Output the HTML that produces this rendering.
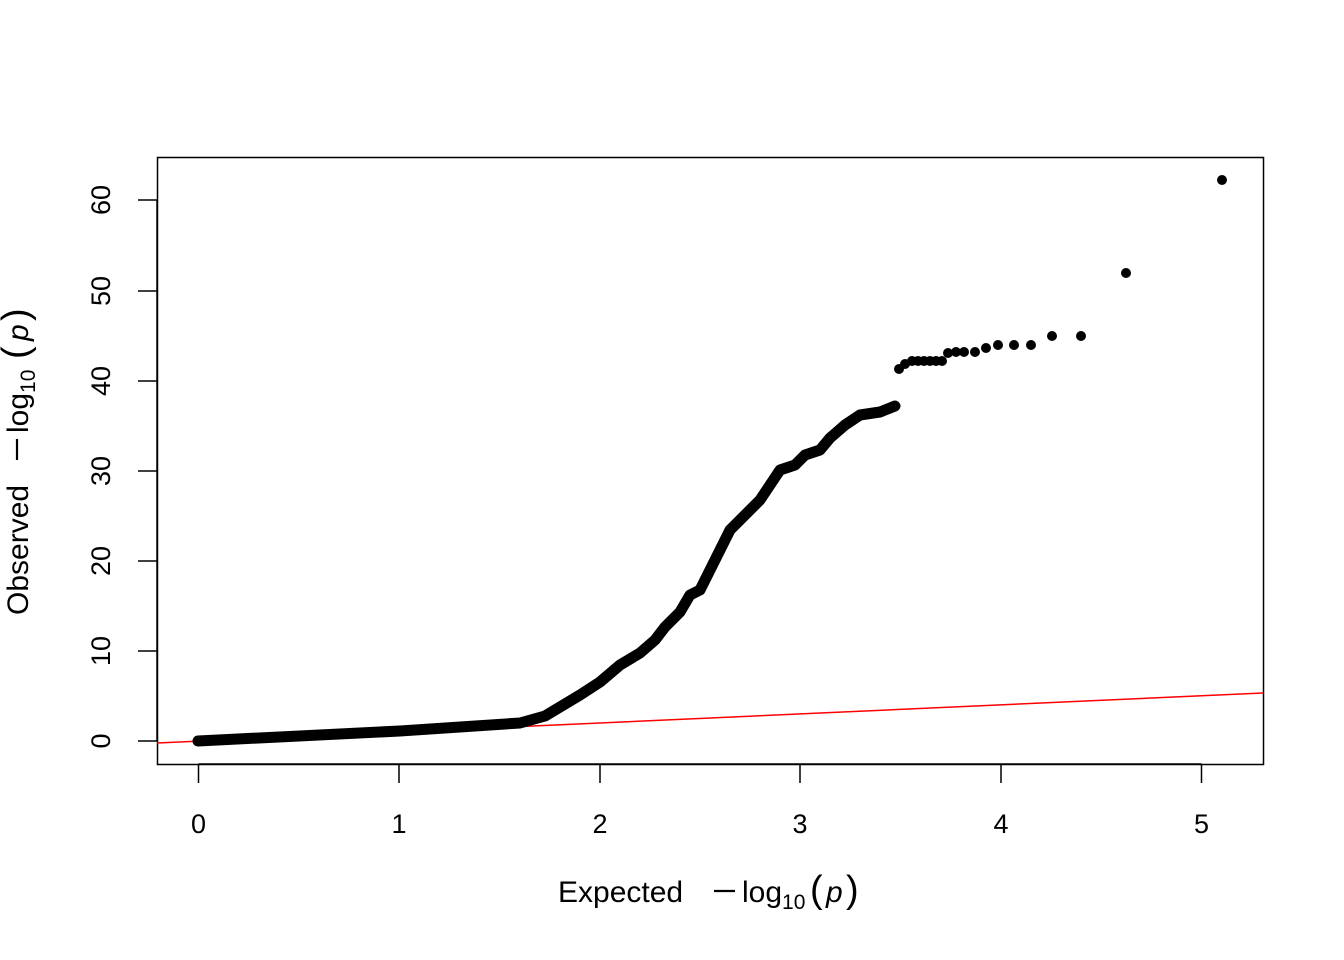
<!DOCTYPE html>
<html><head><style>body{margin:0;background:#fff}svg{display:block}text{font-family:"Liberation Sans",Arial,sans-serif}</style></head><body>
<svg width="1344" height="960" xmlns="http://www.w3.org/2000/svg">
<rect width="1344" height="960" fill="#fff"/>
<rect x="157.5" y="157.5" width="1106" height="607" fill="none" stroke="#000" stroke-width="1.5"/>
<g stroke="#000" stroke-width="1.5">
<line x1="198.5" y1="764" x2="1201.5" y2="764"/>
<line x1="198.5" y1="764" x2="198.5" y2="783"/><line x1="399" y1="764" x2="399" y2="783"/><line x1="600" y1="764" x2="600" y2="783"/><line x1="800" y1="764" x2="800" y2="783"/><line x1="1001" y1="764" x2="1001" y2="783"/><line x1="1201.5" y1="764" x2="1201.5" y2="783"/>
<line x1="157" y1="741" x2="157" y2="200"/>
<line x1="157" y1="741" x2="138" y2="741"/><line x1="157" y1="651" x2="138" y2="651"/><line x1="157" y1="561" x2="138" y2="561"/><line x1="157" y1="471" x2="138" y2="471"/><line x1="157" y1="381" x2="138" y2="381"/><line x1="157" y1="291" x2="138" y2="291"/><line x1="157" y1="200" x2="138" y2="200"/>
</g>
<g font-size="27" text-anchor="middle">
<text x="198.5" y="833">0</text><text x="399" y="833">1</text><text x="600" y="833">2</text><text x="800" y="833">3</text><text x="1001" y="833">4</text><text x="1201.5" y="833">5</text>
</g>
<g font-size="27" text-anchor="middle">
<text transform="translate(110,741) rotate(-90)">0</text>
<text transform="translate(110,651) rotate(-90)">10</text>
<text transform="translate(110,561) rotate(-90)">20</text>
<text transform="translate(110,471) rotate(-90)">30</text>
<text transform="translate(110,381) rotate(-90)">40</text>
<text transform="translate(110,291) rotate(-90)">50</text>
<text transform="translate(110,200) rotate(-90)">60</text>
</g>
<text y="902" font-size="30"><tspan x="558">Expected</tspan><tspan x="742">log</tspan><tspan font-size="21" dy="7">10</tspan><tspan dy="-7" x="810" font-size="38">(</tspan><tspan x="826" font-style="italic">p</tspan><tspan x="846" font-size="38">)</tspan></text>
<line x1="714" y1="891" x2="735" y2="891" stroke="#000" stroke-width="2.2"/>
<g transform="translate(28,615) rotate(-90)">
<text y="0" font-size="30"><tspan x="0">Observed</tspan><tspan x="182">log</tspan><tspan font-size="21" dy="7">10</tspan><tspan dy="-7" x="256" font-size="38">(</tspan><tspan x="274" font-style="italic">p</tspan><tspan x="294" font-size="38">)</tspan></text>
<line x1="155" y1="-11" x2="176" y2="-11" stroke="#000" stroke-width="2.2"/>
</g>
<line x1="157" y1="743" x2="1263" y2="693" stroke="#f00" stroke-width="1.5"/>
<polyline fill="none" stroke="#000" stroke-width="11" stroke-linecap="round" stroke-linejoin="round" points="198,741 400,731 520,723 545,716 560,707 580,695 600,682 620,665 640,653 655,640 665,627 680,612 690,595 700,590 710,570 720,550 730,530 745,515 760,500 770,485 780,470 795,465 805,455 820,450 830,438 845,425 860,415 880,412 895,406"/>
<g fill="#000">
<circle cx="899" cy="369" r="5"/><circle cx="905" cy="364" r="5"/><circle cx="912" cy="361" r="5"/><circle cx="918" cy="361" r="5"/><circle cx="924" cy="361" r="5"/><circle cx="930" cy="361" r="5"/><circle cx="936" cy="361" r="5"/><circle cx="942" cy="361" r="5"/><circle cx="948" cy="353" r="5"/><circle cx="956" cy="352" r="5"/><circle cx="964" cy="352" r="5"/><circle cx="975" cy="352" r="5"/><circle cx="986" cy="348" r="5"/><circle cx="998" cy="345" r="5"/><circle cx="1014" cy="345" r="5"/><circle cx="1031" cy="345" r="5"/><circle cx="1052" cy="336" r="5"/><circle cx="1081" cy="336" r="5"/><circle cx="1126" cy="273" r="5"/><circle cx="1222" cy="180" r="5"/>
</g>
</svg>
</body></html>
